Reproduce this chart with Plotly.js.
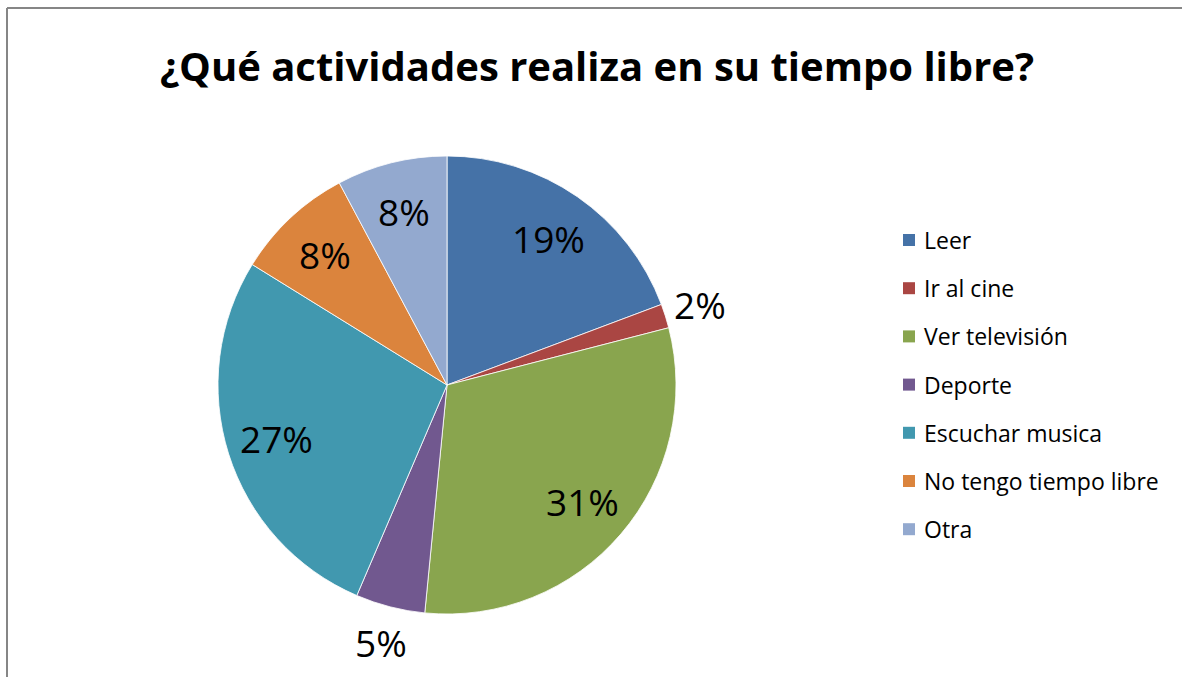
<!DOCTYPE html>
<html>
<head>
<meta charset="utf-8">
<script src="https://cdn.plot.ly/plotly-3.0.1.min.js"></script>
<style>html,body{margin:0;padding:0;background:#fff;}#chart{width:1182px;height:677px;}</style>
</head>
<body>
<div id="chart"></div>
<script>
const labels = ["Leer", "Ir al cine", "Ver televisión", "Deporte", "Escuchar musica", "No tengo tiempo libre", "Otra"];
const values = [19.3, 1.7, 30.6, 4.9, 27.4, 8.4, 7.8];
const colors = ["#4572A7", "#AA4643", "#89A54E", "#71588F", "#4198AF", "#DB843D", "#93A9CF"];
const labelOutside = [false, true, false, true, false, false, false];
const titleText = "¿Qué actividades realiza en su tiempo libre?";

const W = 1182, H = 677;
const px = x => x / W;
const py = y => 1 - y / H;

// pie geometry (layout)
const CX = 447, CY = 385, R = 229;

const shapes = [
  {type: "line", xref: "paper", yref: "paper", x0: px(7), x1: px(1182), y0: py(8), y1: py(8), line: {color: "#868686", width: 2}},
  {type: "line", xref: "paper", yref: "paper", x0: px(7), x1: px(7), y0: py(8), y1: py(677), line: {color: "#868686", width: 2}}
];
const annotations = [];

// legend
labels.forEach((lab, i) => {
  const yc = 240 + i * 48.2;
  shapes.push({type: "rect", xref: "paper", yref: "paper",
    x0: px(903), x1: px(915), y0: py(yc + 6), y1: py(yc - 6),
    fillcolor: colors[i], line: {width: 0}});
  annotations.push({xref: "paper", yref: "paper", x: px(922), y: py(yc),
    xanchor: "left", yanchor: "middle", showarrow: false, text: lab,
    font: {family: "Open Sans", size: 23, color: "#000"}});
});

// percentage labels placed along each slice's bisector (derived from values)
const total = values.reduce((a, b) => a + b, 0);
let cum = 0;
values.forEach((v, i) => {
  const mid = (cum + v / 2) / total * 2 * Math.PI;
  cum += v;
  const rr = R * (labelOutside[i] ? 1.16 : 0.78);
  const x = CX + rr * Math.sin(mid);
  const y = CY - rr * Math.cos(mid);
  annotations.push({xref: "paper", yref: "paper", x: px(x), y: py(y),
    xanchor: "center", yanchor: "middle", showarrow: false,
    text: Math.round(v / total * 100) + "%",
    font: {family: "Open Sans", size: 37, color: "#000"}});
});

const data = [{
  type: "pie",
  labels: labels,
  values: values,
  sort: false,
  direction: "clockwise",
  rotation: 0,
  marker: {colors: colors, line: {color: "#ffffff", width: 0.8}},
  textinfo: "none",
  hoverinfo: "none",
  showlegend: false,
  domain: {x: [px(CX - R), px(CX + R)], y: [py(CY + R), py(CY - R)]}
}];

const layout = {
  width: W, height: H,
  margin: {l: 0, r: 0, t: 0, b: 0},
  paper_bgcolor: "#fff",
  showlegend: false,
  title: {text: titleText, x: px(597), xanchor: "center", y: py(67), yanchor: "middle", yref: "container",
    font: {family: "Open Sans", size: 40, weight: 700, color: "#000"}},
  shapes: shapes,
  annotations: annotations
};

Plotly.newPlot("chart", data, layout, {displayModeBar: false, staticPlot: true});
</script>
</body>
</html>
